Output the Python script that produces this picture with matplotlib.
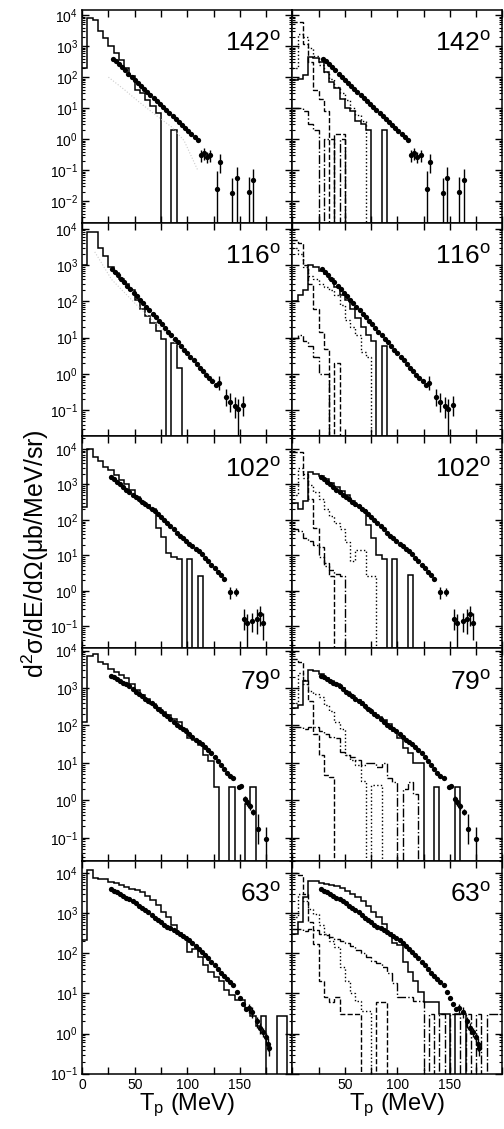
import math
import matplotlib
matplotlib.use("Agg")
import matplotlib.pyplot as plt
from matplotlib.ticker import (MultipleLocator, LogLocator, FuncFormatter, NullFormatter,
                               FixedLocator, LogFormatterSciNotation)

plt.rcParams['font.family'] = ['Liberation Sans', 'DejaVu Sans']
plt.rcParams['mathtext.fontset'] = 'custom'
plt.rcParams['mathtext.rm'] = 'Liberation Sans'
plt.rcParams['mathtext.it'] = 'Liberation Sans:italic'
plt.rcParams['mathtext.default'] = 'regular'

# histogram bins (MeV)
bin_edges = [0, 5, 10, 15, 20, 25, 30, 35, 40, 45, 50, 55, 60, 65, 70, 75, 80, 85, 90, 95, 100,
             105, 110, 115, 120, 125, 130, 135, 140, 145, 150, 155, 160, 165, 170, 175, 180,
             185, 190, 195, 200]

angles = ["142", "116", "102", "79", "63"]

# ---- 142 deg ----
pts_x_142 = [29, 32, 35, 38, 41, 44, 47, 50, 53, 56, 59, 62, 65, 68, 71, 74, 77, 80, 83, 86,
             89, 92, 95, 98, 101, 104, 107, 110]
pts_y_142 = [400, 330, 260, 210, 165, 130, 104, 84, 66, 53, 43, 34, 27, 21, 17, 14, 11, 8.8,
             7.0, 5.6, 4.5, 3.6, 2.9, 2.3, 1.8, 1.45, 1.15, 0.95]
err_x_142 = [113, 116, 119, 122, 128, 131, 143, 147, 159, 163]
err_y_142 = [0.30, 0.36, 0.27, 0.30, 0.025, 0.18, 0.018, 0.055, 0.02, 0.05]
err_lo_142 = [0.12, 0.14, 0.10, 0.12, 0.025, 0.10, 0.018, 0.055, 0.02, 0.05]
err_hi_142 = [0.15, 0.15, 0.12, 0.14, 0.07, 0.15, 0.04, 0.07, 0.04, 0.06]
hl_142 = [200, 8000, 7000, 3000, 1800, 1000, 600, 350, 200, 110, 40, 30, 18, 12, 7, 0, 0, 2]
hr_solid_142 = [80, 90, 120, 450, 420, 300, 150, 70, 45, 20, 10, 8, 4, 3, 2, 0, 0, 2]
hr_dot_142 = [200, 2500, 2000, 900, 500, 250, 150, 90, 50, 30, 18, 10, 6, 4]
hr_dash_142 = [6000, 6000, 1200, 300, 40, 20, 8, 0, 1.5, 1.5]
hr_dashdot_142 = [10, 10, 8, 3, 2, 0, 1, 1, 0, 1]
faint_x_142 = [25, 40, 53, 70, 85, 97, 110]
faint_y_142 = [100, 40, 17, 6, 2.5, 0.9, 0.1]

# ---- 116 deg ----
pts_x_116 = [28, 31, 34, 37, 40, 43, 46, 49, 52, 55, 58, 61, 64, 67, 70, 73, 76, 79, 82, 85,
             88, 91, 94, 97, 100, 103, 106, 109, 112, 115, 118, 121, 124, 127]
pts_y_116 = [800, 640, 520, 420, 340, 270, 215, 172, 138, 110, 88, 70, 56, 45, 36, 29, 23, 18,
             14.5, 11.5, 9.2, 7.4, 5.9, 4.7, 3.8, 3.0, 2.4, 1.9, 1.5, 1.2, 0.95, 0.77, 0.62, 0.5]
err_x_116 = [130, 137, 141, 145, 148, 153]
err_y_116 = [0.55, 0.23, 0.17, 0.13, 0.11, 0.14]
err_lo_116 = [0.2, 0.1, 0.08, 0.07, 0.11, 0.07]
err_hi_116 = [0.3, 0.15, 0.12, 0.1, 0.1, 0.1]
hl_116 = [1000, 8000, 8000, 3000, 1800, 900, 600, 400, 300, 200, 110, 60, 40, 25, 15, 9, 0, 7, 1.5]
hr_solid_116 = [100, 150, 200, 1000, 900, 700, 550, 400, 250, 150, 110, 60, 35, 20, 12, 8, 0, 6]
hr_dot_116 = [3000, 2000, 900, 500, 400, 300, 250, 200, 150, 80, 30, 20, 12, 4, 3]
hr_dash_116 = [5000, 4000, 1000, 300, 60, 14, 5, 0, 2]
hr_dashdot_116 = [10, 12, 8, 6, 3, 1, 1]
faint_x_116 = [12, 28, 50, 75, 94, 110, 122, 130]
faint_y_116 = [2300, 400, 90, 18, 5, 1.8, 0.9, 0.5]

# ---- 102 deg ----
pts_x_102 = [27, 30, 33, 36, 39, 42, 45, 48, 51, 54, 57, 60, 63, 66, 69, 72, 75, 78, 81, 84,
             87, 90, 93, 96, 99, 102, 105, 108, 111, 114, 117, 120, 123, 126, 129, 132, 135]
pts_y_102 = [1600, 1400, 1200, 1000, 850, 720, 620, 520, 440, 390, 330, 280, 240, 210, 180,
             150, 125, 100, 82, 66, 54, 44, 36, 30, 25, 21, 18, 15, 13, 11, 8.5, 7, 5.5, 4.3,
             3.5, 2.8, 2.2]
err_x_102 = [141, 146, 154, 157, 162, 166, 169, 172]
err_y_102 = [0.9, 0.9, 0.16, 0.12, 0.14, 0.16, 0.22, 0.12]
err_lo_102 = [0.3, 0.2, 0.08, 0.12, 0.07, 0.1, 0.12, 0.08]
err_hi_102 = [0.4, 0.3, 0.15, 0.1, 0.1, 0.15, 0.15, 0.12]
hl_102 = [230, 10000, 6000, 4500, 3200, 2500, 1800, 1300, 1000, 700, 450, 330, 260, 200, 60,
          32, 12, 9, 8, 0, 8, 0, 2.7]
hr_solid_102 = [300, 200, 350, 2200, 2000, 1700, 1400, 1100, 850, 650, 500, 350, 250, 190, 70,
                30, 10, 8, 0, 8, 0, 0, 2.8]
hr_dot_102 = [500, 3000, 1500, 950, 600, 400, 200, 130, 80, 55, 24, 7, 14, 14, 2.7, 2.7]
hr_dash_102 = [8000, 8000, 2000, 400, 60, 17, 6, 2.7]
hr_dashdot_102 = [55, 50, 30, 25, 20, 9, 5, 4, 3, 2.7]

# ---- 79 deg ----
pts_x_79 = [27, 30, 33, 36, 39, 42, 45, 48, 51, 54, 57, 60, 63, 66, 69, 72, 75, 78, 81, 84,
            87, 90, 93, 96, 99, 102, 105, 108, 111, 114, 117, 120, 123, 126, 129, 132, 135,
            138, 141, 144]
pts_y_79 = [2150, 1950, 1750, 1550, 1400, 1250, 1100, 950, 800, 680, 600, 520, 450, 390, 330,
            280, 240, 205, 175, 150, 125, 105, 90, 80, 70, 58, 50, 42, 37, 32, 27, 22, 18, 14,
            11, 9, 7, 5.5, 4.5, 3.9]
err_x_79 = [149, 151, 155, 157, 160, 163, 167, 175]
err_y_79 = [2.3, 2.4, 1.1, 0.9, 0.7, 0.5, 0.17, 0.09]
err_lo_79 = [0.3, 0.3, 0.2, 0.2, 0.15, 0.1, 0.1, 0.09]
err_hi_79 = [0.3, 0.3, 0.2, 0.2, 0.15, 0.1, 0.25, 0.1]
hl_79 = [125, 7000, 8300, 5000, 4300, 3300, 2700, 2200, 1800, 1300, 900, 650, 500, 380, 300,
         235, 185, 150, 120, 80, 45, 42, 30, 16, 11, 2.3, 0, 0, 2.3, 0, 0, 0.8, 2.3]
hr_solid_79 = [300, 350, 1500, 3000, 2800, 2300, 1900, 1550, 1250, 1000, 780, 600, 470, 360,
               280, 220, 170, 140, 110, 70, 45, 25, 18, 10, 10, 0, 0, 2.3, 0, 0, 0, 2.3]
hr_dot_79 = [400, 2500, 1300, 850, 700, 560, 350, 250, 125, 80, 16, 12, 9, 3.2, 0, 2.5, 2.5]
hr_dash_79 = [6000, 5000, 1600, 450, 60, 16, 4.8, 4.3]
hr_dashdot_79 = [90, 90, 80, 90, 90, 70, 60, 50, 45, 20, 16, 14, 12, 9, 10, 10, 8, 10, 4, 3,
                 0, 2, 3, 1.5]

# ---- 63 deg ----
pts_x_63 = [27, 30, 33, 36, 39, 42, 45, 48, 51, 54, 57, 60, 63, 66, 69, 72, 75, 78, 81, 84,
            87, 90, 93, 96, 99, 102, 105, 108, 111, 114, 117, 120, 123, 126, 129, 132, 135,
            138, 141, 144, 147, 150, 153, 156]
pts_y_63 = [3900, 3600, 3300, 3000, 2700, 2450, 2200, 2000, 1750, 1550, 1350, 1200, 1050, 900,
            780, 680, 600, 520, 460, 420, 380, 330, 300, 270, 240, 210, 180, 155, 130, 110,
            92, 75, 62, 50, 41, 33, 27, 23, 19, 16, 11, 7.8, 5.5, 4.2]
err_x_63 = [159, 162, 166, 169, 172, 175, 177, 178]
err_y_63 = [4.3, 3.5, 2.0, 1.4, 1.1, 0.8, 0.56, 0.43]
err_lo_63 = [1.0, 1.0, 0.6, 0.4, 0.3, 0.25, 0.2, 0.15]
err_hi_63 = [1.0, 1.0, 0.6, 0.4, 0.3, 0.25, 0.2, 0.15]
hl_63 = [220, 12000, 7500, 7000, 7000, 6000, 5500, 5000, 4500, 4000, 3700, 3300, 2700, 2100,
         1600, 1100, 800, 500, 320, 250, 110, 130, 80, 50, 35, 25, 20, 12, 9, 7, 7, 4.3, 2.7,
         1.5, 2.7, 0, 0, 2.7, 2.7]
hr_solid_63 = [300, 600, 2500, 6300, 6300, 5800, 5300, 5000, 4700, 4200, 3500, 3000, 2500,
               2000, 1500, 1100, 800, 550, 320, 180, 160, 60, 35, 20, 11, 6, 6, 6, 3, 3, 0, 3, 3]
hr_dot_63 = [800, 3000, 2000, 1300, 950, 500, 300, 200, 145, 45, 20, 10, 6.4, 3.6, 3.6]
hr_dash_63 = [10000, 9000, 3000, 600, 170, 20, 8, 6, 8, 3, 3, 3, 3, 0, 0, 0, 6, 6]
hr_dashdot_63 = [400, 400, 350, 400, 380, 300, 280, 250, 230, 200, 180, 150, 120, 100, 80, 65,
                 56, 45, 32, 18, 8, 8, 8, 6.5, 6.5, 0, 3, 0, 3, 0, 3, 3, 0, 3, 0, 3, 0, 3, 3, 3]

ylims = [(2.0e-3, 1.45e4), (2.0e-2, 1.45e4), (2.4e-2, 2.4e4), (2.4e-2, 1.15e4), (1.0e-1, 2.0e4)]

rows = [
    dict(px=pts_x_142, py=pts_y_142, ex=err_x_142, ey=err_y_142, elo=err_lo_142, ehi=err_hi_142,
         hl=hl_142, solid=hr_solid_142, dot=hr_dot_142, dash=hr_dash_142, dashdot=hr_dashdot_142,
         fx=faint_x_142, fy=faint_y_142),
    dict(px=pts_x_116, py=pts_y_116, ex=err_x_116, ey=err_y_116, elo=err_lo_116, ehi=err_hi_116,
         hl=hl_116, solid=hr_solid_116, dot=hr_dot_116, dash=hr_dash_116, dashdot=hr_dashdot_116,
         fx=faint_x_116, fy=faint_y_116),
    dict(px=pts_x_102, py=pts_y_102, ex=err_x_102, ey=err_y_102, elo=err_lo_102, ehi=err_hi_102,
         hl=hl_102, solid=hr_solid_102, dot=hr_dot_102, dash=hr_dash_102, dashdot=hr_dashdot_102,
         fx=None, fy=None),
    dict(px=pts_x_79, py=pts_y_79, ex=err_x_79, ey=err_y_79, elo=err_lo_79, ehi=err_hi_79,
         hl=hl_79, solid=hr_solid_79, dot=hr_dot_79, dash=hr_dash_79, dashdot=hr_dashdot_79,
         fx=None, fy=None),
    dict(px=pts_x_63, py=pts_y_63, ex=err_x_63, ey=err_y_63, elo=err_lo_63, ehi=err_hi_63,
         hl=hl_63, solid=hr_solid_63, dot=hr_dot_63, dash=hr_dash_63, dashdot=hr_dashdot_63,
         fx=None, fy=None),
]

FLOOR = 1e-6


def draw_hist(ax, vals, **kw):
    v = [x if x > 0 else FLOOR for x in vals]
    if len(v) < len(bin_edges) - 1:
        v = v + [FLOOR]
    ax.stairs(v, bin_edges[:len(v) + 1], baseline=None, color='k', **kw)


def draw_points(ax, r):
    ax.plot(r['px'], r['py'], 'o', color='k', ms=3.8, mew=0, zorder=5)
    ax.errorbar(r['ex'], r['ey'], yerr=[r['elo'], r['ehi']], fmt='o', color='k', ms=3.8,
                mew=0, elinewidth=1.0, capsize=2.0, capthick=1.0, zorder=5)


def xfmt_left(v, pos):
    return '%d' % v if v % 50 == 0 and 0 <= v < 200 else ''


def xfmt_right(v, pos):
    return '%d' % v if v % 50 == 0 and 0 < v < 200 else ''


fig = plt.figure(figsize=(5.04, 11.29), dpi=100)
axes = fig.subplots(5, 2, gridspec_kw=dict(hspace=0, wspace=0))
fig.subplots_adjust(left=0.163, right=0.997, top=0.991, bottom=0.049)

for i, r in enumerate(rows):
    lo, hi = ylims[i]
    # only decades inside the row's range get a major tick / label
    decades = [10.0 ** k for k in range(math.ceil(math.log10(lo) - 1e-9),
                                        math.floor(math.log10(hi)) + 1)]
    for j in range(2):
        ax = axes[i, j]
        ax.set_yscale('log')
        if j == 0:
            draw_hist(ax, r['hl'], lw=1.1, ls='-')
            if r['fx'] is not None:
                ax.plot(r['fx'], r['fy'], ls=':', color='0.8', lw=0.8)
        else:
            draw_hist(ax, r['dashdot'], lw=1.0, ls='-.')
            draw_hist(ax, r['dash'], lw=1.0, ls='--')
            draw_hist(ax, r['dot'], lw=1.0, ls=':')
            draw_hist(ax, r['solid'], lw=1.1, ls='-')
        draw_points(ax, r)

        ax.set_xlim(0, 200)
        ax.set_ylim(lo, hi)
        ax.xaxis.set_major_locator(MultipleLocator(25))
        ax.yaxis.set_major_locator(FixedLocator(decades))
        ax.yaxis.set_major_formatter(LogFormatterSciNotation())
        ax.yaxis.set_minor_locator(LogLocator(base=10, subs=range(2, 10), numticks=15))
        ax.yaxis.set_minor_formatter(NullFormatter())
        ax.tick_params(which='both', direction='in', top=True, right=True)
        ax.tick_params(which='major', length=5, width=1.0, labelsize=10, pad=3)
        ax.tick_params(which='minor', length=2.5, width=0.8)
        for s in ax.spines.values():
            s.set_linewidth(1.1)
        if j == 1:
            ax.tick_params(labelleft=False)
            ax.xaxis.set_major_formatter(FuncFormatter(xfmt_right))
        else:
            ax.xaxis.set_major_formatter(FuncFormatter(xfmt_left))
        if i < 4:
            ax.tick_params(labelbottom=False)
        else:
            ax.set_xlabel('T$_p$ (MeV)', fontsize=17, labelpad=0)
        ax.text(0.945, 0.84, angles[i] + r'$^{\rm o}$', transform=ax.transAxes,
                ha='right', va='center', fontsize=19)

fig.text(0.07, 0.51, r'd$^2\sigma$/dE/d$\Omega$($\mu$b/MeV/sr)', rotation=90,
         ha='center', va='center', fontsize=18)

fig.savefig('out.png', dpi=100)
